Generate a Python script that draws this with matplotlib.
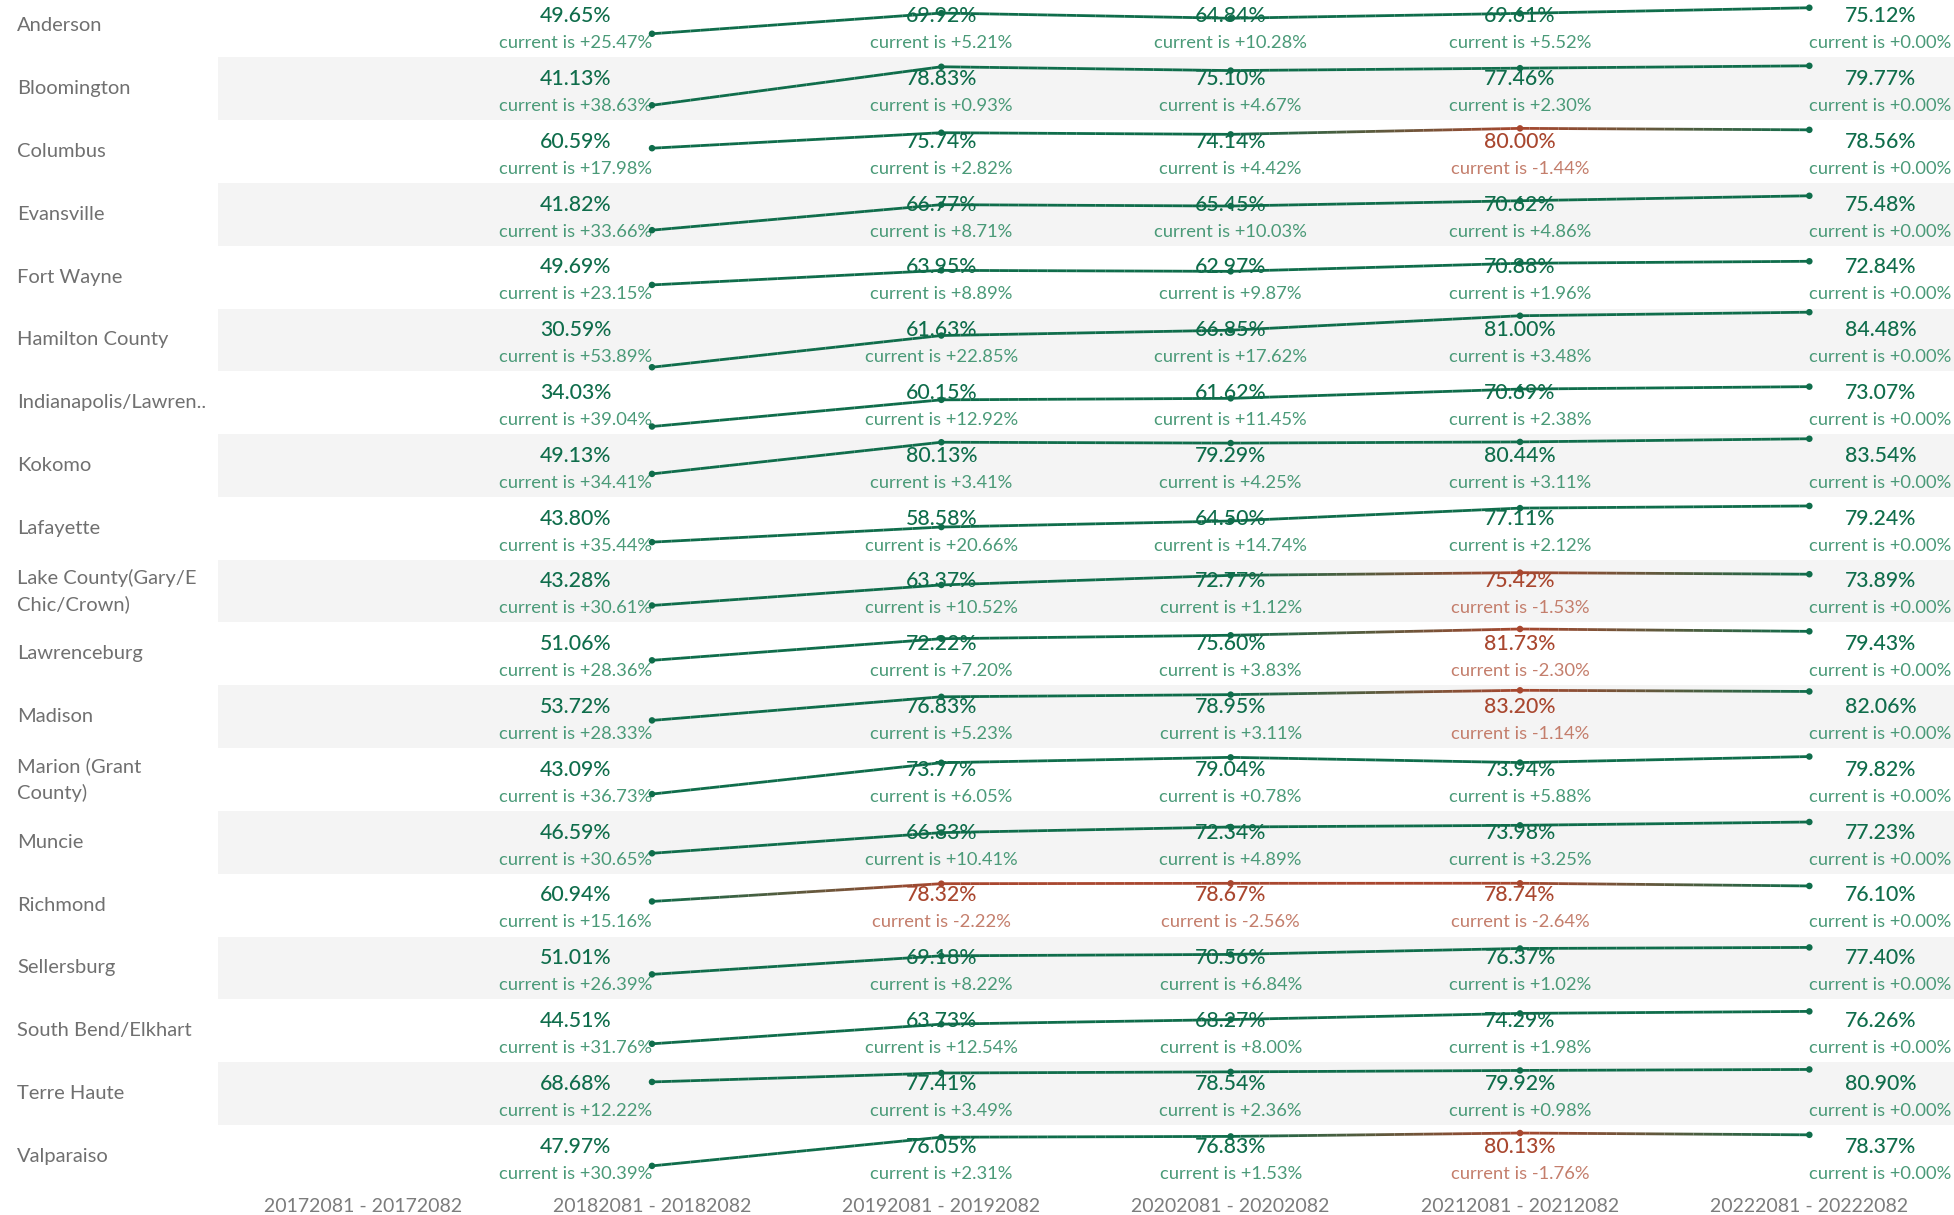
import numpy as np
import matplotlib.pyplot as plt
from matplotlib.collections import LineCollection
from matplotlib.colors import to_rgb
from matplotlib.transforms import ScaledTranslation

plt.rcParams['font.family'] = ['Lato', 'DejaVu Sans']

# periods on the x axis (first column has no data)
periods = ['20172081 - 20172082', '20182081 - 20182082', '20192081 - 20192082',
           '20202081 - 20202082', '20212081 - 20212082', '20222081 - 20222082']

cities = ['Anderson', 'Bloomington', 'Columbus', 'Evansville', 'Fort Wayne',
          'Hamilton County', 'Indianapolis/Lawren..', 'Kokomo', 'Lafayette',
          'Lake County(Gary/E\nChic/Crown)', 'Lawrenceburg', 'Madison',
          'Marion (Grant\nCounty)', 'Muncie', 'Richmond', 'Sellersburg',
          'South Bend/Elkhart', 'Terre Haute', 'Valparaiso']

# rate per period (2018..2022)
values = [
    [49.65, 69.92, 64.84, 69.61, 75.12],
    [41.13, 78.83, 75.10, 77.46, 79.77],
    [60.59, 75.74, 74.14, 80.00, 78.56],
    [41.82, 66.77, 65.45, 70.62, 75.48],
    [49.69, 63.95, 62.97, 70.88, 72.84],
    [30.59, 61.63, 66.85, 81.00, 84.48],
    [34.03, 60.15, 61.62, 70.69, 73.07],
    [49.13, 80.13, 79.29, 80.44, 83.54],
    [43.80, 58.58, 64.50, 77.11, 79.24],
    [43.28, 63.37, 72.77, 75.42, 73.89],
    [51.06, 72.22, 75.60, 81.73, 79.43],
    [53.72, 76.83, 78.95, 83.20, 82.06],
    [43.09, 73.77, 79.04, 73.94, 79.82],
    [46.59, 66.83, 72.34, 73.98, 77.23],
    [60.94, 78.32, 78.67, 78.74, 76.10],
    [51.01, 69.18, 70.56, 76.37, 77.40],
    [44.51, 63.73, 68.27, 74.29, 76.26],
    [68.68, 77.41, 78.54, 79.92, 80.90],
    [47.97, 76.05, 76.83, 80.13, 78.37],
]

# "current is" difference shown under each value
current_diff = [
    [25.47, 5.21, 10.28, 5.52, 0.00],
    [38.63, 0.93, 4.67, 2.30, 0.00],
    [17.98, 2.82, 4.42, -1.44, 0.00],
    [33.66, 8.71, 10.03, 4.86, 0.00],
    [23.15, 8.89, 9.87, 1.96, 0.00],
    [53.89, 22.85, 17.62, 3.48, 0.00],
    [39.04, 12.92, 11.45, 2.38, 0.00],
    [34.41, 3.41, 4.25, 3.11, 0.00],
    [35.44, 20.66, 14.74, 2.12, 0.00],
    [30.61, 10.52, 1.12, -1.53, 0.00],
    [28.36, 7.20, 3.83, -2.30, 0.00],
    [28.33, 5.23, 3.11, -1.14, 0.00],
    [36.73, 6.05, 0.78, 5.88, 0.00],
    [30.65, 10.41, 4.89, 3.25, 0.00],
    [15.16, -2.22, -2.56, -2.64, 0.00],
    [26.39, 8.22, 6.84, 1.02, 0.00],
    [31.76, 12.54, 8.00, 1.98, 0.00],
    [12.22, 3.49, 2.36, 0.98, 0.00],
    [30.39, 2.31, 1.53, -1.76, 0.00],
]

GREEN = '#0f6d4b'
GREEN_LIGHT = '#4a9a78'
RED = '#a9472f'
RED_LIGHT = '#c47e6c'

W, H = 1954, 1215
fig = plt.figure(figsize=(W / 100, H / 100), dpi=100)
renderer = fig.canvas.get_renderer()

left_px = 218
row_h = 62.8
top0 = -5.5
xs = np.arange(1, 6)

for i, city in enumerate(cities):
    top = top0 + row_h * i
    ax = fig.add_axes([left_px / W, 1 - (top + row_h) / H, 1 - left_px / W, row_h / H])
    ax.set_xlim(-0.5, 5.5)
    ax.set_ylim(26.6, 88.1)
    ax.set_facecolor('#f4f4f4' if i % 2 else 'white')
    for s in ax.spines.values():
        s.set_visible(False)
    ax.set_xticks([])
    ax.set_yticks([])

    vals = values[i]
    diffs = current_diff[i]
    cols = [RED if d < 0 else GREEN for d in diffs]

    # line with colour blending between points
    segs, segcols = [], []
    for k in range(len(xs) - 1):
        c0, c1 = np.array(to_rgb(cols[k])), np.array(to_rgb(cols[k + 1]))
        tt = np.linspace(0, 1, 31)
        px = xs[k] + (xs[k + 1] - xs[k]) * tt
        py = vals[k] + (vals[k + 1] - vals[k]) * tt
        for j in range(30):
            segs.append([(px[j], py[j]), (px[j + 1], py[j + 1])])
            f = (tt[j] + tt[j + 1]) / 2
            segcols.append(c0 * (1 - f) + c1 * f)
    ax.add_collection(LineCollection(segs, colors=segcols, linewidths=2.0, zorder=3))
    ax.scatter(xs, vals, s=22, c=cols, zorder=4, linewidths=0)

    tr = ax.get_xaxis_transform()
    for k, (x, v, d) in enumerate(zip(xs, vals, diffs)):
        red = d < 0
        ha = 'right' if k == 0 else ('left' if k == len(xs) - 1 else 'center')
        ct = ax.text(x, 0.225, f'current is {d:+.2f}%', transform=tr, ha=ha, va='center',
                     fontsize=13.2, color=RED_LIGHT if red else GREEN_LIGHT, zorder=2)
        shift = 0
        if ha != 'center':
            w = ct.get_window_extent(renderer=renderer).width
            shift = -w / 2 if ha == 'right' else w / 2
        ax.text(x, 0.655, f'{v:.2f}%', va='center', ha='center', fontsize=15.3,
                fontweight='medium', color=RED if red else GREEN, zorder=2,
                transform=tr + ScaledTranslation(shift / 100, 0, fig.dpi_scale_trans))

    fig.text(17 / W, 1 - (top + row_h / 2) / H, city, ha='left', va='center',
             fontsize=14.5, color='#707070', linespacing=1.55)

    if i == len(cities) - 1:
        for k, p in enumerate(periods):
            ax.text(k, -(1207 - (top + row_h)) / row_h, p, transform=tr, ha='center',
                    va='center', fontsize=14, color='#7c7c7c', clip_on=False)

fig.savefig('out.png', dpi=100)
